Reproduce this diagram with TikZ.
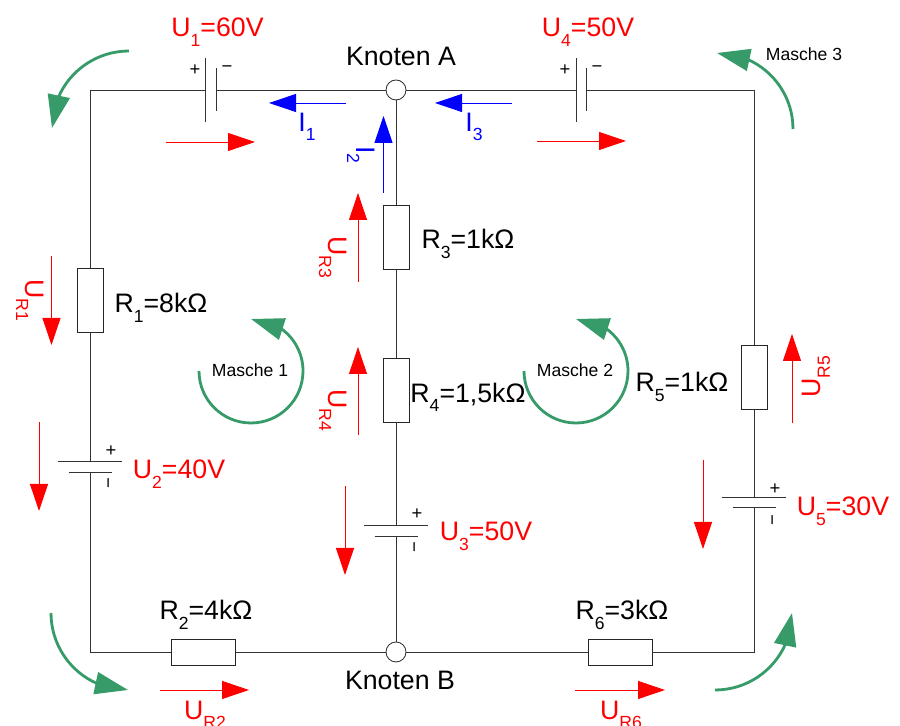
\documentclass[tikz,border=0pt]{standalone}
\usepackage{fontspec}
\setmainfont{Liberation Sans}
\usepackage{xcolor}
\usepackage{tikz}
\usetikzlibrary{positioning, arrows.meta, bending}

\definecolor{maschegreen}{RGB}{54,155,104}
\newcommand{\idx}[1]{\raisebox{-.36em}{\fontsize{10}{10}\selectfont #1}}
\newcommand{\plateV}[1]{\draw[wire] (#1.north west) -- (#1.south west)
 ([yshift=.43cm]#1.east) -- ([yshift=-.43cm]#1.east);}
\newcommand{\plateH}[1]{\draw[wire] (#1.north west) -- (#1.north east)
 ([xshift=-.43cm]#1.south) -- ([xshift=.43cm]#1.south);}

\tikzset{
 wire/.style={draw=black!80, line width=.55pt},
 corner/.style={inner sep=0pt, minimum size=0pt},
 knoten/.style={circle, draw=black!80, fill=white, line width=.5pt, minimum size=.4cm, inner sep=0pt},
 resV/.style={rectangle, draw=black!85, fill=white, line width=.5pt, minimum width=.52cm, minimum height=1.28cm, inner sep=0pt},
 resH/.style={rectangle, draw=black!85, fill=white, line width=.5pt, minimum width=1.28cm, minimum height=.52cm, inner sep=0pt},
 batV/.style={minimum width=.21cm, minimum height=1.28cm, inner sep=0pt, outer sep=0pt},
 batH/.style={minimum width=1.28cm, minimum height=.21cm, inner sep=0pt, outer sep=0pt},
 txt/.style={font=\fontsize{15.2}{18}\selectfont, inner sep=0pt},
 val/.style={txt, text=red},
 cur/.style={txt, text=blue},
 small/.style={font=\fontsize{10}{12}\selectfont, inner sep=0pt},
 sign/.style={font=\fontsize{10.5}{12}\selectfont, inner sep=0pt},
 uarrow/.style={draw=red, line width=.5pt, -{Triangle[length=.54cm, width=.36cm, fill=red]}},
 iarrow/.style={draw=blue, line width=.5pt, -{Triangle[length=.54cm, width=.36cm, fill=blue]}},
 marrow/.style={draw=maschegreen, line width=1.6pt, -{Triangle[length=.66cm, width=.44cm, fill=maschegreen]}}
}

\begin{document}
\begin{tikzpicture} [node distance = 3cm, on grid, auto]

        \useasboundingbox (0,0) rectangle (18,14.52);

        % circuit
        \node (A) [knoten] at (7.92,12.72) {}; \node (B) [knoten, below = 11.24 of A] {};
        \node (tl) [corner, left = 6.12 of A] {}; \node (tr) [corner, right = 7.16 of A] {};
        \node (bl) [corner, left = 6.12 of B] {}; \node (br) [corner, right = 7.16 of B] {};
        \node (U1) [batV, left = 3.70 of A] {}; \node (U4) [batV, right = 3.71 of A] {};
        \node (R1) [resV, below = 4.2 of tl] {}; \node (U2) [batH, below = 3.34 of R1] {};
        \node (R2) [resH, right = 2.27 of bl] {}; \node (R6) [resH, left = 2.68 of br] {};
        \node (R3) [resV, below = 2.94 of A] {}; \node (R4) [resV, below = 3.06 of R3] {};
        \node (U3) [batH, below = 2.82 of R4] {};
        \node (R5) [resV, below = 5.74 of tr] {}; \node (U5) [batH, below = 2.51 of R5] {};

        \draw[wire] (tl.center) -- (U1) (U1) -- (A) (A) -- (U4) (U4) -- (tr.center) -- (R5) (R5) -- (U5)
         (U5) -- (br.center) -- (R6) (R6) -- (B) (B) -- (R2) (R2) -- (bl.center) -- (U2) (U2) -- (R1)
         (R1) -- (tl.center) (A) -- (R3) (R3) -- (R4) (R4) -- (U3) (U3) -- (B);
        \plateV{U1} \plateV{U4} \plateH{U2} \plateH{U3} \plateH{U5}

        % signs
        \node (pU1) [sign, above left = .4 and .32 of U1] {+}; \node (nU1) [sign, above right = .42 and .32 of U1] {−};
        \node (pU4) [sign, above left = .4 and .33 of U4] {+}; \node (nU4) [sign, above right = .42 and .31 of U4] {−};
        \node (pU2) [sign, above right = .32 and .42 of U2] {+}; \node (nU2) [sign, rotate=90, below right = .32 and .42 of U2] {−};
        \node (pU3) [sign, above right = .34 and .42 of U3] {+}; \node (nU3) [sign, rotate=90, below right = .32 and .42 of U3] {−};
        \node (pU5) [sign, above right = .27 and .42 of U5] {+}; \node (nU5) [sign, rotate=90, below right = .35 and .42 of U5] {−};

        % labels
        \node (lA) [txt, above right = .68 and .1 of A] {Knoten A};
        \node (lB) [txt, below right = .56 and .08 of B] {Knoten B};
        \node (lR1) [txt, below right = .16 and 1.42 of R1] {R\idx{1}=8kΩ};
        \node (lR2) [txt, above right = .74 and .05 of R2] {R\idx{2}=4kΩ};
        \node (lR3) [txt, below right = .14 and 1.44 of R3] {R\idx{3}=1kΩ};
        \node (lR4) [txt, below right = .15 and 1.44 of R4] {R\idx{4}=1,5kΩ};
        \node (lR5) [txt, below left = .2 and 1.44 of R5] {R\idx{5}=1kΩ};
        \node (lR6) [txt, above right = .74 and .04 of R6] {R\idx{6}=3kΩ};
        \node (lU1) [val, above right = 1.16 and .13 of U1] {U\idx{1}=60V};
        \node (lU2) [val, below right = .14 and 1.78 of U2] {U\idx{2}=40V};
        \node (lU3) [val, below right = .1 and 1.8 of U3] {U\idx{3}=50V};
        \node (lU4) [val, above right = 1.16 and .13 of U4] {U\idx{4}=50V};
        \node (lU5) [val, below right = .17 and 1.78 of U5] {U\idx{5}=30V};
        \node (lUR1) [val, rotate=-90] at (.6,8.52) {U\idx{R1}};
        \node (lUR2) [val] at (4.1,.22) {U\idx{R2}};
        \node (lUR3) [val, rotate=-90] at (6.66,9.38) {U\idx{R3}};
        \node (lUR4) [val, rotate=-90] at (6.66,6.32) {U\idx{R4}};
        \node (lUR5) [val, rotate=90] at (16.32,6.98) {U\idx{R5}};
        \node (lUR6) [val] at (12.42,.22) {U\idx{R6}};
        \node (lI1) [cur] at (6.14,11.98) {I\idx{1}};
        \node (lI2) [cur, rotate=-90] at (7.22,11.42) {I\idx{2}};
        \node (lI3) [cur] at (9.48,11.98) {I\idx{3}};
        \node (lM1) [small] at (5,7.12) {Masche 1};
        \node (lM2) [small] at (11.5,7.12) {Masche 2};
        \node (lM3) [small] at (16.08,13.44) {Masche 3};

        % red voltage arrows
        \coordinate (su1) at (3.32,11.68); \coordinate (eu1) at (5.1,11.68);
        \coordinate (su4) at (10.74,11.7); \coordinate (eu4) at (12.52,11.7);
        \coordinate (su2) at (.78,6.08); \coordinate (eu2) at (.78,4.3);
        \coordinate (su3) at (6.9,4.8); \coordinate (eu3) at (6.9,3.02);
        \coordinate (su5) at (14.06,5.32); \coordinate (eu5) at (14.06,3.54);
        \coordinate (sr1) at (1.03,9.4); \coordinate (er1) at (1.03,7.62);
        \coordinate (sr2) at (3.2,.72); \coordinate (er2) at (4.98,.72);
        \coordinate (sr3) at (7.16,8.88); \coordinate (er3) at (7.16,10.66);
        \coordinate (sr4) at (7.16,5.82); \coordinate (er4) at (7.16,7.58);
        \coordinate (sr5) at (15.84,6.06); \coordinate (er5) at (15.84,7.84);
        \coordinate (sr6) at (11.5,.72); \coordinate (er6) at (13.3,.72);
        \draw[uarrow] (su1) -- (eu1); \draw[uarrow] (su4) -- (eu4);
        \draw[uarrow] (su2) -- (eu2); \draw[uarrow] (su3) -- (eu3);
        \draw[uarrow] (su5) -- (eu5); \draw[uarrow] (sr1) -- (er1);
        \draw[uarrow] (sr2) -- (er2); \draw[uarrow] (sr3) -- (er3);
        \draw[uarrow] (sr4) -- (er4); \draw[uarrow] (sr5) -- (er5);
        \draw[uarrow] (sr6) -- (er6);

        % blue currents
        \coordinate (si1) at (6.92,12.46); \coordinate (ei1) at (5.38,12.46);
        \coordinate (si2) at (7.67,10.66); \coordinate (ei2) at (7.67,12.2);
        \coordinate (si3) at (10.24,12.46); \coordinate (ei3) at (8.7,12.46);
        \draw[iarrow] (si1) -- (ei1); \draw[iarrow] (si2) -- (ei2); \draw[iarrow] (si3) -- (ei3);

        % green loops
        \coordinate (mtl) at (2.58,13.5); \coordinate (mtr) at (15.86,11.94);
        \coordinate (mbl) at (1.02,2.26); \coordinate (mbr) at (14.3,.72);
        \coordinate (m1) at (3.98,7.1); \coordinate (m2) at (10.48,7.1);
        \draw[marrow] (mtl) arc[start angle=90, end angle=180, radius=1.54];
        \draw[marrow] (mtr) arc[start angle=0, end angle=90, radius=1.52];
        \draw[marrow] (mbl) arc[start angle=180, end angle=270, radius=1.54];
        \draw[marrow] (mbr) arc[start angle=270, end angle=360, radius=1.54];
        \draw[marrow] (m1) arc[start angle=180, end angle=450, radius=1.04];
        \draw[marrow] (m2) arc[start angle=180, end angle=450, radius=1.04];

\end{tikzpicture}
\end{document}
